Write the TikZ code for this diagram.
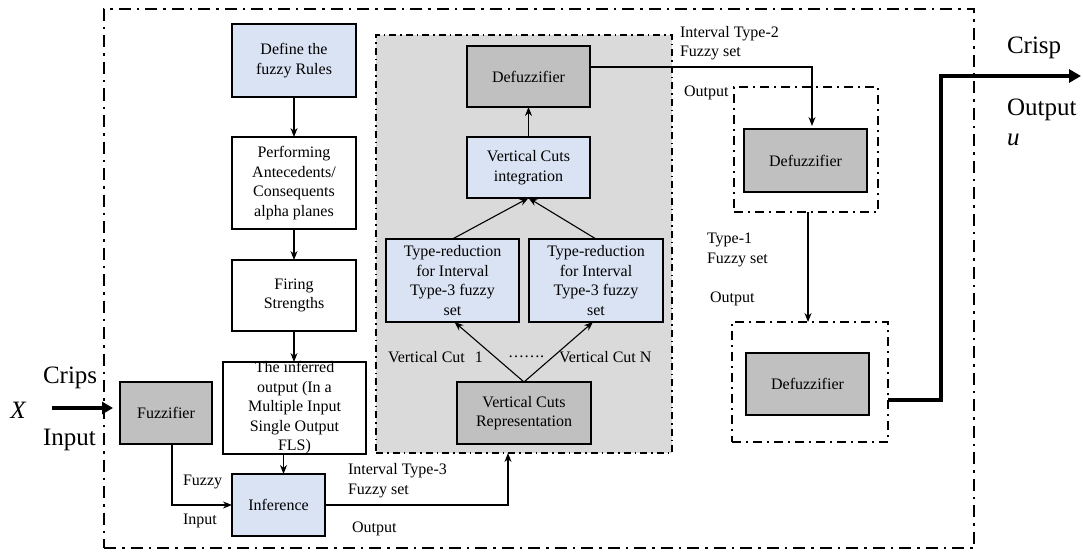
\documentclass[tikz,border=0pt]{standalone}
\usepackage{fontspec}
\setmainfont{Liberation Serif}
\usetikzlibrary{arrows.meta}
\definecolor{boxblue}{RGB}{218,227,243}
\definecolor{boxgray}{RGB}{192,192,192}
\definecolor{panelgray}{RGB}{218,218,218}

\begin{document}
\begin{tikzpicture}[x=1pt,y=-1pt,
  every node/.style={inner sep=0pt, outer sep=0pt},
  boxbase/.style={draw=black, line width=1.5pt, align=center, font=\fontsize{16}{19.5}\selectfont},
  bluebox/.style={boxbase, fill=boxblue},
  graybox/.style={boxbase, fill=boxgray},
  whitebox/.style={boxbase, fill=white},
  lbl/.style={anchor=west, align=left, font=\fontsize{16}{19.5}\selectfont},
  biglbl/.style={anchor=west, align=left, font=\fontsize{25}{30}\selectfont},
  conn/.style={draw=black, line width=1.1pt, -{Stealth[length=9pt,width=7pt]}},
  outerframe/.style={draw=black, line width=2.5pt, dash pattern=on 12pt off 6pt on 2.5pt off 6pt},
  groupframe/.style={draw=black, line width=2pt, dash pattern=on 9pt off 5pt on 2pt off 5pt},
  panelframe/.style={draw=black, line width=1.6pt, dash pattern=on 7pt off 4pt on 1.5pt off 4pt, fill=panelgray},
]
\useasboundingbox (0,0) rectangle (1083,551);

% frames
\node[outerframe, minimum width=870pt, minimum height=539pt] (outer) at (539,278.5) {};
\node[panelframe, minimum width=296pt, minimum height=418pt] (panel) at (524,244) {};
\node[groupframe, minimum width=144pt, minimum height=125pt] (frame2) at (806,149.5) {};
\node[groupframe, minimum width=156pt, minimum height=120pt] (frame3) at (810,382) {};

% left column
\node[bluebox, minimum width=124pt, minimum height=73pt] (rules) at (294,60.5) {Define the\\fuzzy Rules};
\node[whitebox, minimum width=124pt, minimum height=92pt] (perf) at (294,183) {Performing\\Antecedents/\\Consequents\\alpha planes};
\node[whitebox, minimum width=124pt, minimum height=71pt] (firing) at (294,295.5) {Firing\\Strengths};
\node[whitebox, minimum width=143pt, minimum height=92pt] (infer) at (294.5,408) {};
\node[align=center, font=\fontsize{16}{19.5}\selectfont] (infertext) at (infer.center) {The inferred\\output (In a\\Multiple Input\\Single Output\\FLS)};
\node[graybox, minimum width=92pt, minimum height=62pt] (fuzzifier) at (166,413) {Fuzzifier};
\node[bluebox, minimum width=93pt, minimum height=62pt] (inference) at (278.5,505) {Inference};

% type-reduction panel
\node[graybox, minimum width=123pt, minimum height=61pt] (defuz1) at (528.5,76.5) {Defuzzifier};
\node[bluebox, minimum width=123pt, minimum height=61pt] (vci) at (528.5,167.5) {Vertical Cuts\\integration};
\node[bluebox, minimum width=133pt, minimum height=83pt] (trl) at (452.5,280.5) {Type-reduction\\for Interval\\Type-3 fuzzy\\set};
\node[bluebox, minimum width=134pt, minimum height=83pt] (trr) at (596,280.5) {Type-reduction\\for Interval\\Type-3 fuzzy\\set};
\node[graybox, minimum width=134pt, minimum height=62pt] (vcr) at (524,413) {Vertical Cuts\\Representation};

% right defuzzifiers
\node[graybox, minimum width=123pt, minimum height=63pt] (defuz2) at (805.5,160.5) {Defuzzifier};
\node[graybox, minimum width=123pt, minimum height=62pt] (defuz3) at (807.5,384) {Defuzzifier};

% connectors
\draw[conn] (rules) -- (perf);
\draw[conn] (perf) -- (firing);
\draw[conn] (firing.south) -- (firing.south |- infer.north);
\draw[conn] ([xshift=-11pt]infer.south) -- ([xshift=-11pt]infer.south |- inference.north);
\draw[conn] ([xshift=6pt]fuzzifier.south) |- (inference.west);
\draw[conn] (inference.east) -| ([xshift=-16pt]panel.south);
\draw[conn] (vcr.north) -- ([xshift=2pt]trl.south);
\draw[conn] (vcr.north) -- ([xshift=-3pt]trr.south);
\draw[conn] (trl.north) -- (vci.south);
\draw[conn] (trr.north) -- (vci.south);
\draw[conn] (vci) -- (defuz1);
\draw[conn, shorten >=3pt] ([yshift=9.5pt]defuz1.east) -| ([xshift=6.5pt]defuz2.north);
\draw[conn] ([xshift=2pt]frame2.south) -- ([xshift=2pt]frame2.south |- frame3.north);

% crisp input and output
\coordinate (xin) at (52,408);
\draw[line width=4pt, shorten >=7pt, -{Triangle[length=11pt,width=12pt]}] (xin) -- (xin -| fuzzifier.west);
\coordinate (outcorner) at (941,76);
\coordinate (outend) at (1081,76);
\draw[line width=4.5pt, -{Triangle[length=12pt,width=13pt]}] ([yshift=-18pt]frame3.east) -| (outcorner) -- (outend);

% labels
\node[lbl] (lvc1) at (388,357) {Vertical Cut\hspace{10pt}1};
\node[lbl] (ldots) at (508,357) {…….};
\node[lbl] (lvcn) at (559,357) {Vertical Cut N};
\node[lbl] (lit2) at (680,43) {Interval Type-2\\Fuzzy set};
\node[lbl] (lout2) at (684,93) {Output};
\node[lbl] (lt1) at (707,250) {Type-1\\Fuzzy set};
\node[lbl] (lout1) at (710,299) {Output};
\node[lbl] (lit3) at (348,480.5) {Interval Type-3\\Fuzzy set};
\node[lbl] (lout3) at (352,529) {Output};
\node[lbl] (lfz) at (183,482) {Fuzzy};
\node[lbl] (lfin) at (183,521) {Input};
\node[biglbl] (lcrips) at (43,378) {Crips};
\node[biglbl] (linput) at (43,440) {Input};
\node[font=\fontsize{25}{30}\selectfont\itshape] (lx) at (18,410) {X};
\node[biglbl] (lcrisp) at (1007,48) {Crisp};
\node[biglbl] (loutput) at (1007,110) {Output};
\node[biglbl] (lu) at (1007,140) {\textit{u}};
\end{tikzpicture}
\end{document}
